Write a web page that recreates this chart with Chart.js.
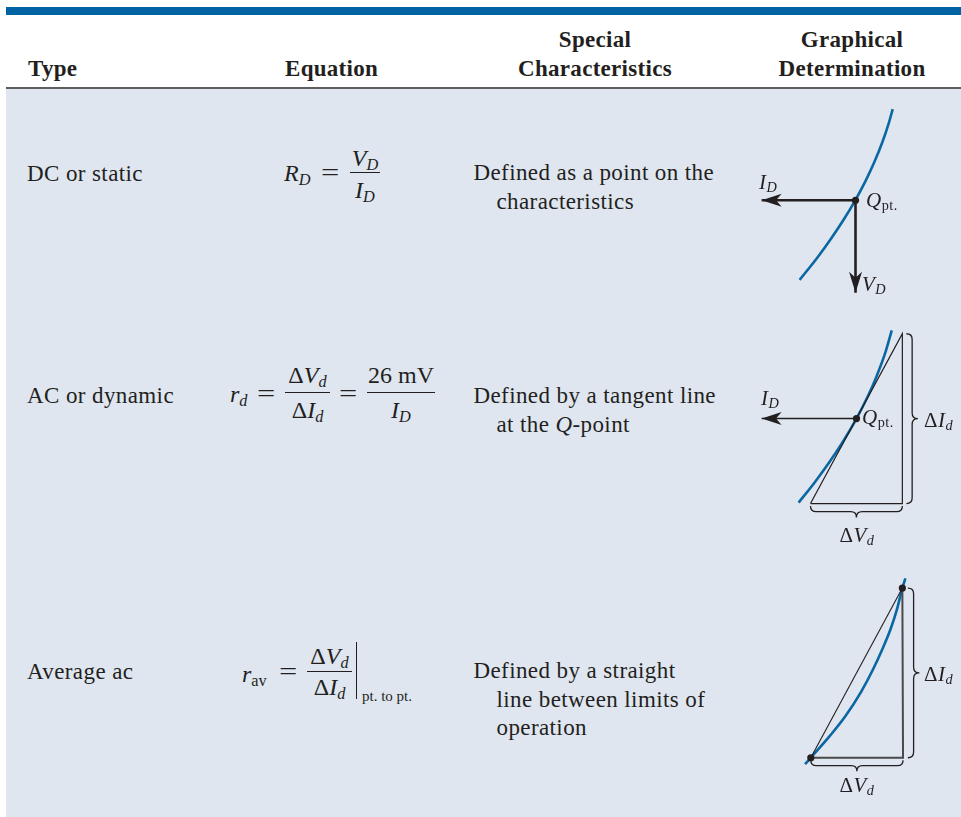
<!DOCTYPE html>
<html>
<head>
<meta charset="utf-8">
<title>Diode resistance levels</title>
<script src="https://cdn.jsdelivr.net/npm/chart.js"></script>
<style>
  html, body { margin: 0; padding: 0; background: #fff; }
  #page { position: relative; width: 961px; height: 817px; overflow: hidden;
          font-family: "Liberation Serif", "Times New Roman", serif; color: #231f20; }
  .band { position: absolute; }
  .t { position: absolute; white-space: nowrap; line-height: 1; z-index: 3; }
  .t sub { font-size: 0.68em; vertical-align: -0.24em; line-height: 0; }
  .hd { font-weight: bold; letter-spacing: 0.3px; }
  .tx { letter-spacing: 0.4px; }
  .lab { letter-spacing: 0.5px; }
  .eq { transform: scaleX(1.35); transform-origin: left center; }
  .bar { position: absolute; background: #231f20; z-index: 3; }
  canvas { position: absolute; z-index: 2; }
</style>
</head>
<body>
<div id="page">
  <div class="band" style="left:6px; top:7px; width:955px; height:8px; background:#0064a4;"></div>
  <div class="band" style="left:6px; top:89px; width:955px; height:728px; background:#dfe6f0;"></div>
  <div class="band" style="left:6px; top:87px; width:955px; height:2px; background:#5e5e5e;"></div>
  <canvas id="dc" width="221" height="211" style="left:740px; top:89px;"></canvas>
  <canvas id="ac" width="221" height="255" style="left:740px; top:300px;"></canvas>
  <canvas id="avg" width="221" height="262" style="left:740px; top:555px;"></canvas>
</div>
<script>
// values, in the local units of each small graph (V across, I up)

// DC or static
const dcCurveV = [57.7, 76.2, 90.6, 103.8, 115.7, 126.3, 135.6, 143.6, 150.3, 154.3];
const dcCurveI = [16.7, 40, 60, 80, 100, 120, 140, 160, 180, 194.3];
const dcQ = [115.7, 99.5];
const dcArrowI = [18.3, 99.5];
const dcArrowV = [115.7, 3.3];

// AC or dynamic
const acCurveV = [56.7, 72.7, 87.4, 100.8, 116.7, 128.6, 137.4, 146.7, 153.3];
const acCurveI = [50, 70, 90, 110, 136.7, 160, 180, 205, 227.7];
const acQ = [116.7, 136.7];
const acArrowI = [18.3, 136.7];
const acTriV = [69, 164.3, 164.3, 69];
const acTriI = [49, 224.3, 49, 49];

// Average ac
const avCurveV = [63.3, 69.3, 89.5, 105.3, 121.5, 133.3, 144, 152.2, 158.7, 164.3, 167.5];
const avCurveI = [50.3, 57, 80, 100, 125, 147, 170, 190, 210, 232, 242];
const avPtsV = [69.3, 164.3];
const avPtsI = [57, 232];
const avLegV = [164.3, 165, 69.3];
const avLegI = [232, 57, 57];

const ink = "#231f20";
const blue = "#0b67a3";
const page = document.getElementById("page");

function put(x, base, html, size, cls, center) {
  const el = document.createElement("div");
  el.className = "t " + (cls || "");
  el.style.left = x + "px";
  el.style.top = (base - 0.84 * size) + "px";
  el.style.fontSize = size + "px";
  if (center) el.style.transform = "translateX(-50%)";
  el.innerHTML = html;
  page.appendChild(el);
}

function rule(x, y, w, h) {
  const el = document.createElement("div");
  el.className = "bar";
  el.style.left = x + "px";
  el.style.top = y + "px";
  el.style.width = w + "px";
  el.style.height = h + "px";
  page.appendChild(el);
}

// header
put(28, 76, "Type", 23, "hd");
put(285, 76, "Equation", 23, "hd");
put(595, 47, "Special", 23, "hd", true);
put(595, 76, "Characteristics", 23, "hd", true);
put(852, 47, "Graphical", 23, "hd", true);
put(852, 76, "Determination", 23, "hd", true);

// row 1
put(27, 181.5, "DC or static", 23, "tx");
put(284, 181, "<i>R</i><sub><i>D</i></sub>", 24);
put(321, 180.5, "=", 24, "eq");
rule(350, 172, 30, 1.2);
put(365, 166, "<i>V</i><sub><i>D</i></sub>", 24, "", true);
put(365, 198, "<i>I</i><sub><i>D</i></sub>", 24, "", true);
put(473.5, 180, "Defined as a point on the", 23, "tx");
put(496.5, 209, "characteristics", 23, "tx");

// row 2
put(27, 403, "AC or dynamic", 23, "tx");
put(230, 402.5, "<i>r</i><sub><i>d</i></sub>", 24);
put(256.5, 401, "=", 24, "eq");
rule(285, 392, 45, 1.2);
put(307.5, 383, "&Delta;<i>V</i><sub><i>d</i></sub>", 24, "", true);
put(307.5, 418, "&Delta;<i>I</i><sub><i>d</i></sub>", 24, "", true);
put(339, 401, "=", 24, "eq");
rule(367, 392, 68, 1.2);
put(401, 383, "26 mV", 24, "", true);
put(401, 418, "<i>I</i><sub><i>D</i></sub>", 24, "", true);
put(473.5, 403, "Defined by a tangent line", 23, "tx");
put(496.5, 432.5, "at the <i>Q</i>-point", 23, "tx");

// row 3
put(27, 679, "Average ac", 23, "tx");
put(242, 682, "<i>r</i><sub>av</sub>", 24);
put(278.5, 679.5, "=", 24, "eq");
rule(307, 670.5, 45, 1.2);
put(329.5, 664, "&Delta;<i>V</i><sub><i>d</i></sub>", 24, "", true);
put(329.5, 695, "&Delta;<i>I</i><sub><i>d</i></sub>", 24, "", true);
rule(355.5, 642, 1.3, 57);
put(362, 702, "pt. to pt.", 15);
put(473.5, 678.5, "Defined by a straight", 23, "tx");
put(496.5, 707, "line between limits of", 23, "tx");
put(496.5, 735.5, "operation", 23, "tx");

// labels in the graphs
put(759, 190, "<i>I</i><sub><i>D</i></sub>", 21, "lab");
put(866, 208, "<i>Q</i><sub>pt.</sub>", 21, "lab");
put(862, 292, "<i>V</i><sub><i>D</i></sub>", 21, "lab");
put(761, 406, "<i>I</i><sub><i>D</i></sub>", 21, "lab");
put(862, 425, "<i>Q</i><sub>pt.</sub>", 21, "lab");
put(924, 428, "&Delta;<i>I</i><sub><i>d</i></sub>", 21, "lab");
put(857, 543, "&Delta;<i>V</i><sub><i>d</i></sub>", 21, "lab", true);
put(924, 681.5, "&Delta;<i>I</i><sub><i>d</i></sub>", 21, "lab");
put(857, 793, "&Delta;<i>V</i><sub><i>d</i></sub>", 21, "lab", true);

function lineSet(xs, ys, color, width, smooth) {
  return {
    data: xs.map((x, i) => ({ x: x, y: ys[i] })),
    showLine: true,
    borderColor: color,
    borderWidth: width,
    pointRadius: 0,
    cubicInterpolationMode: smooth ? "monotone" : "default",
    tension: 0,
    fill: false,
    clip: false
  };
}

function dotSet(xs, ys) {
  return {
    data: xs.map((x, i) => ({ x: x, y: ys[i] })),
    showLine: false,
    pointRadius: 3.6,
    pointBackgroundColor: ink,
    pointBorderWidth: 0,
    clip: false
  };
}

function opts(w, h) {
  return {
    responsive: false,
    animation: false,
    events: [],
    layout: { padding: 0 },
    plugins: { legend: { display: false }, tooltip: { enabled: false } },
    scales: {
      x: { type: "linear", min: 0, max: w, display: false },
      y: { type: "linear", min: 0, max: h, display: false }
    }
  };
}

// arrow heads and braces, placed through the chart scales
function extras(arrows, braces) {
  return {
    id: "extras",
    afterDatasetsDraw(chart) {
      const ctx = chart.ctx, sx = chart.scales.x, sy = chart.scales.y;
      ctx.save();
      ctx.fillStyle = ink;
      arrows.forEach(function (a) {
        const x0 = sx.getPixelForValue(a.from[0]), y0 = sy.getPixelForValue(a.from[1]);
        const x1 = sx.getPixelForValue(a.to[0]), y1 = sy.getPixelForValue(a.to[1]);
        const d = Math.hypot(x1 - x0, y1 - y0);
        const ux = (x1 - x0) / d, uy = (y1 - y0) / d;
        const nx = -uy, ny = ux;
        ctx.beginPath();
        ctx.moveTo(x1, y1);
        ctx.lineTo(x1 - ux * a.len + nx * a.half, y1 - uy * a.len + ny * a.half);
        ctx.lineTo(x1 - ux * a.len * 0.72, y1 - uy * a.len * 0.72);
        ctx.lineTo(x1 - ux * a.len - nx * a.half, y1 - uy * a.len - ny * a.half);
        ctx.closePath();
        ctx.fill();
      });
      ctx.strokeStyle = ink;
      ctx.lineWidth = 1.3;
      braces.forEach(function (b) {
        const x0 = sx.getPixelForValue(b.from[0]), y0 = sy.getPixelForValue(b.from[1]);
        const x1 = sx.getPixelForValue(b.to[0]), y1 = sy.getPixelForValue(b.to[1]);
        const len = Math.hypot(x1 - x0, y1 - y0);
        const ux = (x1 - x0) / len, uy = (y1 - y0) / len;
        const nx = -uy, ny = ux;
        const w = b.depth, r = w / 2;
        const P = (s, t) => [x0 + ux * s + nx * t, y0 + uy * s + ny * t];
        ctx.beginPath();
        ctx.moveTo(...P(0, 0));
        ctx.quadraticCurveTo(...P(0, r), ...P(r, r));
        ctx.lineTo(...P(len / 2 - r, r));
        ctx.quadraticCurveTo(...P(len / 2, r), ...P(len / 2, w));
        ctx.quadraticCurveTo(...P(len / 2, r), ...P(len / 2 + r, r));
        ctx.lineTo(...P(len - r, r));
        ctx.quadraticCurveTo(...P(len, r), ...P(len, 0));
        ctx.stroke();
      });
      ctx.restore();
    }
  };
}

new Chart(document.getElementById("dc"), {
  type: "scatter",
  data: {
    datasets: [
      dotSet([dcQ[0]], [dcQ[1]]),
      lineSet([dcQ[0], dcArrowI[0]], [dcQ[1], dcArrowI[1]], ink, 2.6),
      lineSet([dcQ[0], dcArrowV[0]], [dcQ[1], dcArrowV[1]], ink, 2.6),
      lineSet(dcCurveV, dcCurveI, blue, 2.6, true)
    ]
  },
  options: opts(221, 211),
  plugins: [extras([
    { from: dcQ, to: dcArrowI, len: 20, half: 6.5 },
    { from: dcQ, to: dcArrowV, len: 21, half: 6.5 }
  ], [])]
});

new Chart(document.getElementById("ac"), {
  type: "scatter",
  data: {
    datasets: [
      dotSet([acQ[0]], [acQ[1]]),
      lineSet([acQ[0], acArrowI[0]], [acQ[1], acArrowI[1]], ink, 1.5),
      lineSet(acTriV, acTriI, ink, 1.2),
      lineSet(acCurveV, acCurveI, blue, 2.6, true)
    ]
  },
  options: opts(221, 255),
  plugins: [extras([
    { from: acQ, to: acArrowI, len: 20, half: 6.5 }
  ], [
    { from: [168.5, 49], to: [168.5, 224.3], depth: 11.5 },
    { from: [69, 46.5], to: [164.3, 46.5], depth: 11.5 }
  ])]
});

new Chart(document.getElementById("avg"), {
  type: "scatter",
  data: {
    datasets: [
      dotSet(avPtsV, avPtsI),
      lineSet(avPtsV, avPtsI, ink, 1.1),
      lineSet(avLegV, avLegI, "#4a4a4a", 2),
      lineSet(avCurveV, avCurveI, blue, 2.6, true)
    ]
  },
  options: opts(221, 262),
  plugins: [extras([], [
    { from: [170, 57], to: [170, 232], depth: 11.5 },
    { from: [69.3, 54.5], to: [165, 54.5], depth: 11 }
  ])]
});
</script>
</body>
</html>
